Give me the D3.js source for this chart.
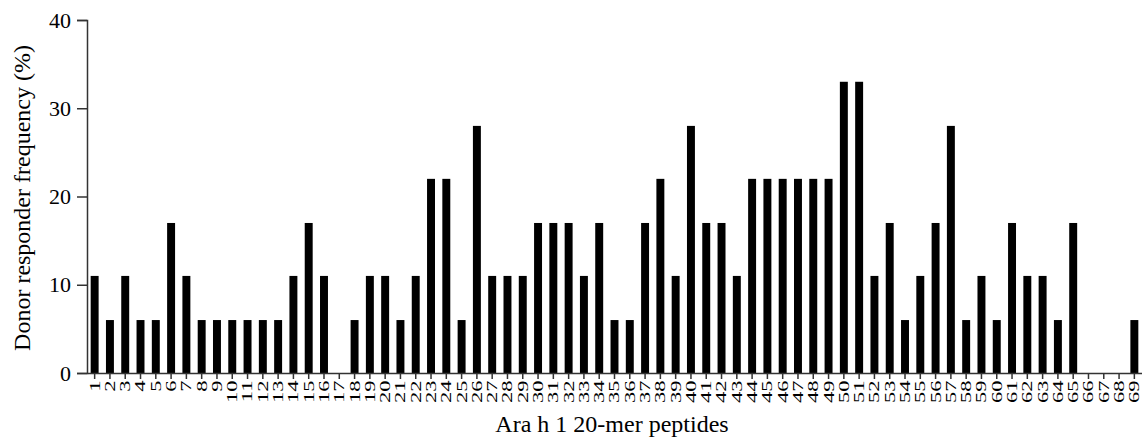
<!DOCTYPE html>
<html>
<head>
<meta charset="utf-8">
<script src="https://cdn.jsdelivr.net/npm/d3@7"></script>
<style>
  body { margin: 0; background: #fff; }
  svg text { font-family: "Liberation Serif", "Times New Roman", serif; fill: #000; }
</style>
</head>
<body>
<svg id="chart"></svg>
<script>
// peptide numbers 1..69
const peptides = ["1","2","3","4","5","6","7","8","9","10","11","12","13","14","15","16","17","18","19","20",
  "21","22","23","24","25","26","27","28","29","30","31","32","33","34","35","36","37","38","39","40",
  "41","42","43","44","45","46","47","48","49","50","51","52","53","54","55","56","57","58","59","60",
  "61","62","63","64","65","66","67","68","69"];

// donor responder frequency (%)
const frequency = [11,6,11,6,6,17,11,6,6,6,6,6,6,11,17,11,0,6,11,11,
  6,11,22,22,6,28,11,11,11,17,17,17,11,17,6,6,17,22,11,28,
  17,17,11,22,22,22,22,22,22,33,33,11,17,6,11,17,28,6,11,6,
  17,11,11,6,17,0,0,0,6];

const yTicks = [0, 10, 20, 30, 40];

const width = 1142, height = 439;
const margin = { top: 20, right: 0, bottom: 66, left: 87 };

const svg = d3.select("#chart").attr("width", width).attr("height", height);

const x = d3.scaleBand()
  .domain(peptides)
  .range([margin.left, width - margin.right])
  .paddingInner(0.48)
  .paddingOuter(0.24);

const y = d3.scaleLinear()
  .domain([0, 40])
  .range([height - margin.bottom, margin.top]);

// bars
svg.append("g")
  .selectAll("rect")
  .data(peptides)
  .join("rect")
  .attr("x", d => x(d))
  .attr("width", x.bandwidth())
  .attr("y", (d, i) => y(frequency[i]))
  .attr("height", (d, i) => y(0) - y(frequency[i]))
  .attr("fill", "#000");

// y axis
const yAxis = svg.append("g")
  .attr("transform", `translate(${margin.left},0)`)
  .call(d3.axisLeft(y).tickValues(yTicks).tickSize(10).tickPadding(6));
yAxis.selectAll("text").style("font-size", "22px");

// x axis (labels are stretched along their length, as in the original)
const xAxis = svg.append("g")
  .attr("transform", `translate(0,${y(0)})`)
  .call(d3.axisBottom(x).tickSize(6).tickSizeOuter(0));
xAxis.selectAll("text")
  .style("font-size", "15px")
  .attr("text-anchor", "end")
  .attr("dy", "0.33em")
  .attr("transform", "rotate(-90) scale(1.5,1)")
  .attr("x", -5)
  .attr("y", 0);

svg.selectAll(".domain, .tick line").attr("stroke", "#333").attr("stroke-width", 1.5);

// axis titles
svg.append("text")
  .attr("x", 612)
  .attr("y", 432)
  .attr("text-anchor", "middle")
  .style("font-size", "24px")
  .text("Ara h 1 20-mer peptides");

svg.append("text")
  .attr("transform", `translate(30,198) rotate(-90)`)
  .attr("text-anchor", "middle")
  .style("font-size", "24px")
  .text("Donor responder frequency (%)");
</script>
</body>
</html>
